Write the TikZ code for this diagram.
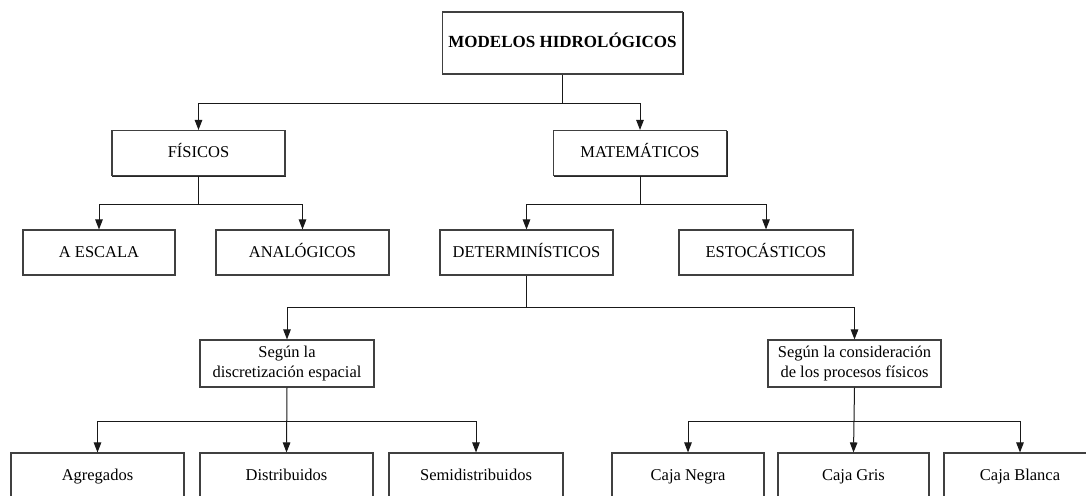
\documentclass[tikz,border=0pt]{standalone}
\usepackage{fontspec}
\setmainfont{Liberation Serif}
\usetikzlibrary{arrows.meta}
\begin{document}
\begin{tikzpicture}[x=1pt,y=-1pt,
  box/.style={draw=black!75, line width=1.1pt, fill=white, minimum height=45pt, inner sep=2pt, align=center, font=\fontsize{16.5}{20}\selectfont,
    preaction={draw=black!85, line width=1.1pt, transform canvas={shift={(0.9pt,-0.9pt)}}}},
  one/.style={text height=13pt, text depth=4pt},
  arr/.style={draw=black!90, line width=1pt, -{Triangle[length=10pt,width=7.5pt]}},
  lin/.style={draw=black!90, line width=1pt}]
\useasboundingbox (0,0) rectangle (1086,495);
\begin{scope}
\clip (0,0) rectangle (1086,495);
\node[box, one, minimum width=240pt, minimum height=62pt, font=\fontsize{17}{20}\selectfont\bfseries] (top) at (562.5,43) {MODELOS HIDROLÓGICOS};
\node[box, one, minimum width=173pt] (fis) at (198.5,153) {FÍSICOS};
\node[box, one, minimum width=173pt] (mat) at (640,153) {MATEMÁTICOS};
\node[box, one, minimum width=152pt] (esc) at (99,252.5) {A ESCALA};
\node[box, one, minimum width=173pt] (ana) at (302.5,252.5) {ANALÓGICOS};
\node[box, one, minimum width=173pt] (det) at (526.5,252.5) {DETERMINÍSTICOS};
\node[box, one, minimum width=174pt] (est) at (766,252.5) {ESTOCÁSTICOS};
\node[box, minimum width=174pt, minimum height=47pt] (dis) at (287,363.5) {Según la\\discretización espacial};
\node[box, minimum width=173pt, minimum height=47pt] (con) at (854.5,363.5) {Según la consideración\\de los procesos físicos};
\node[box, one, minimum width=173pt, minimum height=46pt] (agr) at (97.5,476) {Agregados};
\node[box, one, minimum width=173pt, minimum height=46pt] (dst) at (286.5,476) {Distribuidos};
\node[box, one, minimum width=174pt, minimum height=46pt] (sem) at (476,476) {Semidistribuidos};
\node[box, one, minimum width=152pt, minimum height=46pt] (neg) at (688,476) {Caja Negra};
\node[box, one, minimum width=151pt, minimum height=46pt] (gri) at (853.5,476) {Caja Gris};
\node[box, one, minimum width=152pt, minimum height=46pt] (bla) at (1020,476) {Caja Blanca};

\coordinate (j1) at ([yshift=-29pt]top.south);
\draw[arr] (top.south) -- (j1) -| (fis.north);
\draw[arr] (j1) -| (mat.north);
\coordinate (j2) at ([yshift=-28pt]fis.south);
\draw[arr] (fis.south) -- (j2) -| (esc.north);
\draw[arr] (j2) -| (ana.north);
\coordinate (j3) at ([yshift=-28pt]mat.south);
\draw[arr] (mat.south) -- (j3) -| (det.north);
\draw[arr] (j3) -| (est.north);
\coordinate (j4) at ([yshift=-32pt]det.south);
\draw[lin] (det.south) -- (j4);
\draw[arr] (j4) -| (dis.north);
\draw[arr] (j4) -| (con.north);
\coordinate (j5) at ([yshift=-34pt]dis.south);
\draw[arr] (dis.south) -- (dst.north);
\draw[arr] (j5) -| (agr.north);
\draw[arr] (j5) -| (sem.north);
\coordinate (j6) at ([yshift=-34pt]con.south);
\draw[arr] (con.south) -- (gri.north);
\draw[arr] (j6) -| (neg.north);
\draw[arr] (j6) -| (bla.north);
\end{scope}
\end{tikzpicture}
\end{document}
